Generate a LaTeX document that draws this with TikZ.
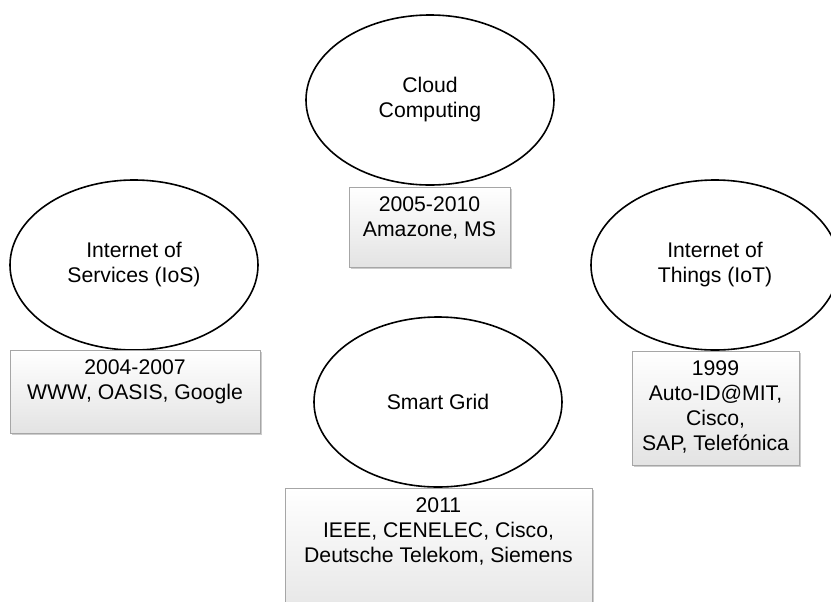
\documentclass[tikz,border=0pt]{standalone}
\usepackage{fontspec}
\setmainfont{Liberation Sans}
\usetikzlibrary{shapes,positioning,shadows}
\tikzset{
topic/.style={
	  draw, thick, ellipse, inner sep=0pt,
	    minimum width=124pt, minimum height=85pt, align=center},
yearbox/.style={
	  draw=gray!70, top color=white, bottom color=gray!22,
	    drop shadow={shadow xshift=1pt, shadow yshift=-1pt, opacity=0.4},
	    inner sep=0pt},
yeartext/.style={inner sep=0pt, align=center, anchor=north, below=4.5pt}
}

\begin{document}
\begin{tikzpicture}[x=0.5pt, y=-0.5pt, every node/.style={font=\fontsize{10.6}{12.5}\selectfont}]
	\useasboundingbox (0,0) rectangle (831,601);
	\node[topic] (cloud) at (430,100) {Cloud\\Computing};
	\node[topic] (ios) at (134,265) {Internet of\\Services (IoS)};
	\node[topic] (iot) at (715,265) {Internet of\\Things (IoT)};
	\node[topic] (grid) at (438,402) {Smart Grid};
	\node[yearbox, minimum width=80.5pt, minimum height=40pt, anchor=north] (cloudbox) at (429.5,187) {};
	\node[yearbox, minimum width=125pt, minimum height=41.5pt, anchor=north] (iosbox) at (135,350) {};
	\node[yearbox, minimum width=83.5pt, minimum height=57pt, anchor=north] (iotbox) at (715.5,351) {};
	\node[yearbox, minimum width=153.5pt, minimum height=70pt, anchor=north] (gridbox) at (438.5,488) {};
	\node[yeartext] (cloudtxt) at (cloudbox.north) {2005-2010\\Amazone, MS};
	\node[yeartext] (iostxt) at (iosbox.north) {2004-2007\\WWW, OASIS, Google};
	\node[yeartext] (iottxt) at (iotbox.north) {1999\\Auto-ID@MIT,\\Cisco,\\SAP, Telefónica};
	\node[yeartext] (gridtxt) at (gridbox.north) {2011\\IEEE, CENELEC, Cisco,\\Deutsche Telekom, Siemens};
\end{tikzpicture}
\end{document}
